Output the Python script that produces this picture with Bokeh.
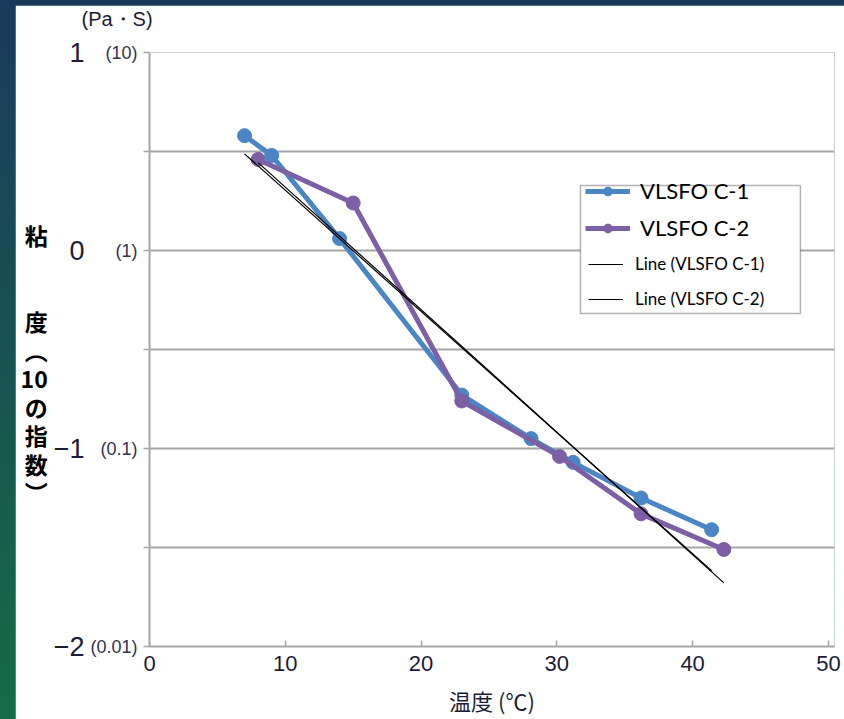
import numpy as np
from bokeh.plotting import figure
from bokeh.models import (LinearAxis, Range1d, FixedTicker, Legend, LegendItem,
                          BoxAnnotation, Grid, Spacer)
from bokeh.layouts import column, row
from bokeh.embed import file_html
from bokeh.resources import INLINE

# ---- data ----
c1_temp = [7, 9, 14, 23, 28.1, 31.2, 36.2, 41.4]
c1_visc = [0.58, 0.48, 0.06, -0.73, -0.95, -1.07, -1.25, -1.41]
c2_temp = [8, 15, 23, 30.2, 36.2, 42.3]
c2_visc = [0.46, 0.24, -0.76, -1.04, -1.33, -1.51]

x_ticks = [0, 10, 20, 30, 40, 50]
y_ticks = [-2, -1.5, -1, -0.5, 0, 0.5, 1]
y_big_labels = {-2: "−2", -1.5: "", -1: "−1", -0.5: "", 0: "0", 0.5: "", 1: "1"}
y_small_labels = {-2: "(0.01)", -1.5: "", -1: "(0.1)", -0.5: "", 0: "(1)", 0.5: "", 1: "(10)"}

series_names = ["VLSFO C-1", "VLSFO C-2"]
trend_names = ["Line (VLSFO C-1)", "Line (VLSFO C-2)"]
unit_text = "(Pa・S)\n"
x_title = "温度 (℃)"
y_title = "\n".join(["", "粘", "", "", "度", "︵", "10", "の", "指", "数", "︶"])

BLUE = "#4a86c6"
PURPLE = "#7d5fa6"
GRID = "#a6a6a6"
TXT = "#1c1c36"
NUM_FONT = "Liberation Sans"
CJK = "Noto Sans CJK JP"

p = figure(width=829, height=714, x_range=Range1d(0, 50.45), y_range=Range1d(-2, 1),
           output_backend="svg", toolbar_location=None, y_axis_location=None,
           min_border_left=134, min_border_right=10, min_border_top=47, min_border_bottom=73)
p.outline_line_color = None
p.background_fill_color = "white"
p.border_fill_color = "white"
p.xgrid.visible = False

# unit text as title (second empty line lifts it away from the frame)
p.title.text = unit_text
p.title.align = "left"
p.title.vertical_align = "top"
p.title.offset = -68
p.title.text_font = NUM_FONT
p.title.text_font_size = "20px"
p.title.text_font_style = "normal"
p.title.text_color = TXT
p.title.text_line_height = 0.9
p.title.standoff = 2

# x axis
xa = p.xaxis[0]
xa.ticker = FixedTicker(ticks=x_ticks)
xa.axis_line_color = GRID
xa.axis_line_width = 2
xa.major_tick_line_color = GRID
xa.major_tick_line_width = 1.5
xa.major_tick_in = 6
xa.major_tick_out = 0
xa.minor_tick_line_color = None
xa.major_label_text_font = NUM_FONT
xa.major_label_text_font_size = "22px"
xa.major_label_text_color = TXT
xa.major_label_standoff = 9
xa.axis_label = x_title
xa.axis_label_text_font = CJK
xa.axis_label_text_font_style = "normal"
xa.axis_label_text_font_size = "22px"
xa.axis_label_text_color = TXT
xa.axis_label_standoff = 10

# inner y axis (small labels) and outer y axis (big labels + vertical title)
inner = LinearAxis(ticker=FixedTicker(ticks=y_ticks), major_label_overrides=y_small_labels,
                   axis_line_color=GRID, axis_line_width=2, major_tick_line_color=GRID,
                   major_tick_line_width=1.5, major_tick_in=0, major_tick_out=6,
                   minor_tick_line_color=None, major_label_standoff=6,
                   major_label_text_font=NUM_FONT, major_label_text_font_size="18px",
                   major_label_text_color="#33334d")
outer = LinearAxis(ticker=FixedTicker(ticks=y_ticks), major_label_overrides=y_big_labels,
                   axis_line_color=None, major_tick_line_color=None, minor_tick_line_color=None,
                   major_tick_in=0, major_tick_out=0, major_label_standoff=3,
                   major_label_text_font=NUM_FONT, major_label_text_font_size="27px",
                   major_label_text_color=TXT,
                   axis_label=y_title, axis_label_orientation="horizontal",
                   axis_label_standoff=3, axis_label_text_font=CJK,
                   axis_label_text_font_size="23px", axis_label_text_font_style="bold",
                   axis_label_text_color="black", axis_label_text_line_height=0.84)
p.add_layout(inner, "left")
p.add_layout(outer, "left")
p.add_layout(Grid(dimension=1, ticker=FixedTicker(ticks=y_ticks), grid_line_color=GRID,
                  grid_line_width=2))

# series
r1l = p.line(c1_temp, c1_visc, line_color=BLUE, line_width=5)
r1s = p.scatter(c1_temp, c1_visc, size=14, marker="circle", fill_color=BLUE, line_color=BLUE)
r2l = p.line(c2_temp, c2_visc, line_color=PURPLE, line_width=5)
r2s = p.scatter(c2_temp, c2_visc, size=14, marker="circle", fill_color=PURPLE, line_color=PURPLE)

# linear trend lines (least squares fit of each series)
trend_r = []
for xs, ys in [(c1_temp, c1_visc), (c2_temp, c2_visc)]:
    k, b = np.polyfit(xs, ys, 1)
    tx = [min(xs), max(xs)]
    trend_r.append(p.line(tx, [k * t + b for t in tx], line_color="black", line_width=1.2))

# legend frame
p.add_layout(BoxAnnotation(left=31.74, right=47.94, top=0.328, bottom=-0.318,
                           fill_color="white", fill_alpha=1, line_color="black",
                           line_width=1.5, level="annotation"))

leg1 = Legend(items=[LegendItem(label=series_names[0], renderers=[r1l, r1s]),
                     LegendItem(label=series_names[1], renderers=[r2l, r2s])],
              location=(431, 400), orientation="vertical", padding=5, margin=0, spacing=10,
              glyph_width=45, glyph_height=22, label_height=22, label_standoff=10,
              label_text_font="Lato", label_text_font_size="22px", label_text_color="black",
              border_line_alpha=0, background_fill_alpha=0)
leg2 = Legend(items=[LegendItem(label=trend_names[0], renderers=[trend_r[0]]),
                     LegendItem(label=trend_names[1], renderers=[trend_r[1]])],
              location=(434, 332), orientation="vertical", padding=5, margin=0, spacing=14,
              glyph_width=35, glyph_height=18, label_height=18, label_standoff=12,
              label_text_font="Lato", label_text_font_size="17px", label_text_color="black",
              border_line_alpha=0, background_fill_alpha=0)
p.add_layout(leg1)
p.add_layout(leg2)

layout = column(Spacer(width=844, height=5),
                row(Spacer(width=15, height=714), p, spacing=0),
                spacing=0,
                styles={"background": "linear-gradient(to bottom, #1a3a5c, #136c46)"})

open("out.html", "w").write(file_html(layout, INLINE))
